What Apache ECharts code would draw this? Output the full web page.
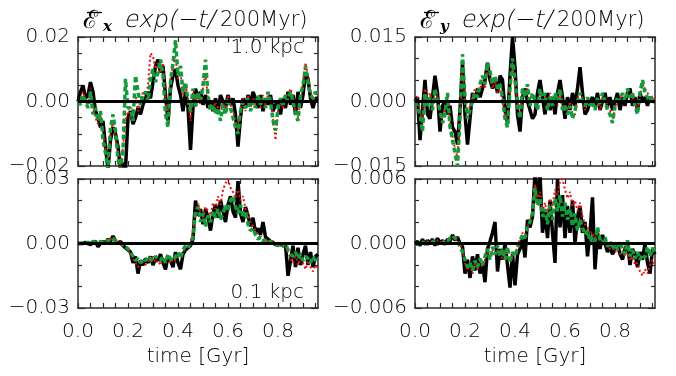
<!DOCTYPE html>
<html><head><meta charset="utf-8">
<script src="https://cdn.jsdelivr.net/npm/echarts@6/dist/echarts.min.js"></script>
<style>html,body{margin:0;padding:0;background:#fff}#c{width:676px;height:376px}</style>
</head><body><div id="c"></div>
<script>
// time axis [Gyr]
const time = [0.00,0.01,0.02,0.03,0.04,0.05,0.06,0.07,0.08,0.09,
0.10,0.11,0.12,0.13,0.14,0.15,0.16,0.17,0.18,0.19,
0.20,0.21,0.22,0.23,0.24,0.25,0.26,0.27,0.28,0.29,
0.30,0.31,0.32,0.33,0.34,0.35,0.36,0.37,0.38,0.39,
0.40,0.41,0.42,0.43,0.44,0.45,0.46,0.47,0.48,0.49,
0.50,0.51,0.52,0.53,0.54,0.55,0.56,0.57,0.58,0.59,
0.60,0.61,0.62,0.63,0.64,0.65,0.66,0.67,0.68,0.69,
0.70,0.71,0.72,0.73,0.74,0.75,0.76,0.77,0.78,0.79,
0.80,0.81,0.82,0.83,0.84,0.85,0.86,0.87,0.88,0.89,
0.90,0.91,0.92,0.93,0.94,0.95,0.96];

// values in units of 1e-3
const UNIT = 1e-3;
// Ex, 1.0 kpc
const exFarBlack = [0,3,5,1,2,6,3,-3,-5,-8, -6,-14,-21,-12,-8,-10,-14,-21,-19,-21, -5,-3,-7,-5,-2,-4,-1,1,3,1, 6,11,13,9,11,2,-6,4,8,10, 5,2,-3,3,-2,-15,-2,4,1,3, -1,2,-2,0,-3,1,-3,2,0,-2, 2,-1,1,-4,-14,-5,1,-2,2,-1, 3,1,-2,2,-3,1,-1,2,-3,-1, 0,-4,1,-2,3,-1,2,-4,3,-2, 2,9,7,1,-2,1,1];
const exFarRed = [0,1,3,0,-1,4,-2,-5,-7,-4, -10,-15,-18,-10,-6,-12,-16,-20,-14,-6, -3,-5,-2,2,-3,0,3,2,5,15, 14,10,12,9,12,0,-4,8,11,14, 7,9,2,5,1,-6,3,0,2,-1, 4,9,1,-1,-3,0,-2,-4,0,-3, 2,-1,-3,-6,-9,-2,1,-3,2,-2, 1,-1,1,-2,2,-1,2,0,-5,-12, -3,0,-2,1,2,4,1,-3,-5,1, 6,12,8,3,0,2,3];
const exFarGreen = [0,-1,2,0,-2,3,-4,-2,-6,-3, -12,-16,-21,-8,-4,-9,-18,-21,-15,7, -2,-2,-6,8,3,-1,2,3,0,7, 10,6,9,13,8,-4,-8,6,12,19, 8,11,3,6,0,-3,4,-2,3,0, 5,13,2,-3,-1,-4,-2,-6,-1,-4, 1,-2,-5,-8,-10,-3,0,-2,1,-3, 0,-2,2,-1,1,-2,3,0,-6,-9, -2,1,-1,2,0,3,0,-4,-6,2, 5,11,6,2,1,3,2];
// Ey, 1.0 kpc
const eyFarBlack = [0,1,-9,-2,5,-3,-4,1,6,2, -7,-1,0,-3,-1,-6,-7,-10,-2,9, -3,-10,-4,2,0,3,1,3,5,9, 5,3,5,2,6,5,-2,-5,6,15, 8,-3,-7,1,3,0,-2,-4,-3,2, 5,1,-3,2,-2,1,-3,2,5,1, -4,1,-2,2,-1,3,8,2,-3,-2, 0,1,-1,2,-2,0,2,-1,1,-2, 0,2,-2,1,-1,2,3,-1,1,-2, 2,0,1,-1,1,0,0];
const eyFarRed = [0,1,-2,-5,3,0,2,-1,2,1, -3,-4,-2,1,-5,-8,-11,-13,-3,8, 0,-3,-1,1,3,2,3,5,3,8, 6,3,5,2,3,0,-3,-4,2,8, 4,0,-3,2,2,3,0,1,-1,-1, 2,1,1,-1,2,0,1,-1,2,-1, -2,-2,0,-3,-3,1,1,1,-2,0, 0,-1,-1,0,-2,1,1,-1,-2,-4, -2,0,1,1,1,2,2,1,0,-2, 1,4,3,2,1,0,1];
const eyFarGreen = [0,-1,-3,-7,2,-1,1,-2,3,0, -2,-5,-3,2,-6,-9,-12,-15,-4,11, 1,-4,-2,0,2,1,4,6,4,9, 7,4,6,3,4,1,-4,-6,3,10, 5,-1,-4,3,1,4,-1,2,0,-2, 3,0,2,-2,1,-1,2,0,3,-2, -1,-3,-1,-4,-2,0,2,0,-1,1, -1,0,-2,1,-1,2,0,-2,-3,-5, -1,1,0,2,0,3,1,2,-1,-3, 2,5,2,1,0,1,1];
// Ex, 0.1 kpc
const exNearBlack = [0,0,0,0.5,0,-0.5,0.5,1,-1.5,0, 1,0,2,1,3.5,1,0,1,-1,-2, -3,-4,-9,-6,-14,-8,-10,-7,-9,-6, -10,-7,-8,-5,-9,-12,-6,-8,-11,-4, -9,-12,-5,-3,-2,-1,2,20,13,16, 9,16,12,6,14,18,12,20,15,10, 18,22,15,12,29,14,10,17,13,8, 12,5,7,4,10,3,2,1,0.5,-0.5, 0,-0.5,-1,-0.5,-15,-8,-1,-11,-2,-10, -5,-1,-10,-4,-11,-6,-5];
const exNearRed = [0,0.5,0,0,-0.5,0.5,0,1,-1,0.5, 1,0.5,2,2,3,2,0,0.5,-1,-2, -3,-5,-7,-9,-11,-8,-9,-10,-7,-9, -6,-9,-8,-10,-7,-8,-6,-9,-7,-8, -5,-6,-4,-2,-1,1,5,14,19,14, 12,17,15,13,19,16,22,18,25,28, 30,26,24,21,25,20,22,16,14,10, 8,6,4,3,2,1,1,0.5,0,0, -1,-0.5,-1.5,-1,-4,-7,-9,-5,-10,-7, -9,-12,-8,-11,-13,-10,-12];
const exNearGreen = [0,0,0.5,0,0.5,0,1,0.5,0,1, 0.5,1.5,1,2.5,2,1.5,0.5,0,-1,-1.5, -2.5,-4,-6,-8,-7,-9,-7,-8,-6,-7, -8,-6,-7,-8,-6,-9,-5,-7,-8,-6, -4,-7,-3,-1,-2,0,3,15,17,10, 14,8,13,10,15,12,16,11,14,18, 15,20,22,17,14,18,12,15,9,6, 7,4,2,3,1,1.5,0.5,1,0,-0.5, -1,0,-1,0,-3,-5,-6,-4,-7,-5, -8,-6,-7,-9,-6,-8,-7];
// Ey, 0.1 kpc
const eyNearBlack = [0,0.2,-0.2,0.4,-0.1,0.3,0,0.4,-0.2,0.5, 0,0.3,-0.1,0.4,0.2,0.8,0.3,0.6,0,-0.3, -2.8,-1.5,-3.2,-1.2,-2.5,-1,-2.8,-1.8,-3.6,-0.5, 0.2,1,2,-2.6,-0.5,-1.5,0,-2,-4.1,-1, -3.9,-1,-0.5,0.5,-1.3,2.2,1.5,2.5,6.5,4, 6.5,1,3,0.5,4,1,-1.8,6,1.5,4.5, 0.5,3.5,1,4,0,2.5,3.5,1,2,-1.2, 1,4.3,-2.4,1,-0.5,0.8,0,-0.8,-0.3,-1, -0.5,0,-1,-1.5,-0.5,0,-2,-0.5,-1,-2.2, -0.8,-1.5,0,-1.8,-2.8,-0.5,-1];
const eyNearRed = [0,0.1,0,0.2,0.1,0.2,0,0.3,0.1,0.3, 0.1,0.2,0.1,0.3,0.4,0.6,0.4,0.3,0,-0.6, -1.8,-2.5,-2,-2.8,-1.8,-2.4,-1.6,-2.2,-1.5,-0.8, -1.2,-0.5,-1.2,-0.6,-1,-1.4,-0.6,-1.3,-1.6,-1, -1,-0.2,0.4,1,0.8,1.5,2.2,3,5.5,4, 4.8,3,3.8,2.5,4.2,3.5,5,4.5,5.8,6, 5,4.2,4.8,3.5,4,3,3.8,2.5,1.8,1.5, 1,0.8,0.5,1.2,0.3,0.4,0,-0.2,-0.5,-0.4, -0.8,-0.5,-1,-0.7,-1.2,-0.8,-1.6,-1.2,-2,-1.8, -2.6,-3,-2.4,-2.8,-2,-1.5,-2];
const eyNearGreen = [0,-0.1,0.2,0,0.3,-0.1,0.2,0.1,0.3,-0.1, 0.2,0,0.3,0.2,0.5,0.4,0.6,0.2,-0.3,-0.8, -1.5,-2.2,-1.8,-2.5,-1.6,-2.2,-1.4,-2,-1.2,-0.5, -1.5,-0.3,-1,-0.2,-1.2,-0.5,-1.5,-0.3,-1.8,-0.8, -1.2,-0.4,0.2,0.8,0.5,1.5,2,2.8,5.2,3.5, 4.2,2.5,3.2,1.8,3.5,2.2,4.2,3,4.5,2.5, 3.8,2.2,3.2,1.6,2.8,1.2,2.2,1.5,0.8,1.2, 0.2,0.6,0.2,1.5,0.4,0,0.6,-0.3,0.2,-0.5, 0,-0.6,0.2,-0.5,-1,0.3,-1.2,-0.6,-1.4,-0.8, -1.5,-1,-1.3,-0.3,-1.2,-0.4,-0.8];

// tick labels
const xTickValues = [0.0, 0.2, 0.4, 0.6, 0.8];
const xTickLabels = ['0.0', '0.2', '0.4', '0.6', '0.8'];
const exFarYTicks = [-0.02, 0, 0.02];   const exFarYLabels = ['\u22120.02', '0.00', '0.02'];
const eyFarYTicks = [-0.015, 0, 0.015]; const eyFarYLabels = ['\u22120.015', '0.000', '0.015'];
const exNearYTicks = [-0.03, 0, 0.03];  const exNearYLabels = ['\u22120.03', '0.00', '0.03'];
const eyNearYTicks = [-0.006, 0, 0.006]; const eyNearYLabels = ['\u22120.006', '0.000', '0.006'];
const panelNotes = ['1.0 kpc', '0.1 kpc'];
const xTitle = 'time [Gyr]';
const titleParts = ['\u2130', 'exp(\u2212t/', '200Myr)'];
const titleComps = ['x', 'y'];

// ---------- layout / style ----------
const FONT = 'DejaVu Sans';
const FW = 200;
const AX = '#2a2a2a';
const TXT = '#000000';
const panels = [
  {left: 78, top: 37, h: 129, ticks: exFarYTicks, labels: exFarYLabels, step: 0.02, minorN: 4, data: [exFarBlack, exFarRed, exFarGreen], bottomLabels: false},
  {left: 415, top: 37, h: 129, ticks: eyFarYTicks, labels: eyFarYLabels, step: 0.015, minorN: 3, data: [eyFarBlack, eyFarRed, eyFarGreen], bottomLabels: false},
  {left: 78, top: 179, h: 129, ticks: exNearYTicks, labels: exNearYLabels, step: 0.03, minorN: 3, data: [exNearBlack, exNearRed, exNearGreen], bottomLabels: true},
  {left: 415, top: 179, h: 129, ticks: eyNearYTicks, labels: eyNearYLabels, step: 0.006, minorN: 3, data: [eyNearBlack, eyNearRed, eyNearGreen], bottomLabels: true}
];
const W = 240;

function lab(ticks, labels) {
  return function (v) {
    for (let k = 0; k < ticks.length; k++) if (Math.abs(ticks[k] - v) < 1e-9) return labels[k];
    return '';
  };
}

const grids = [], xAxes = [], yAxes = [], series = [];
const lineStyles = [
  {color: '#000000', width: 3.5, type: 'solid'},
  {color: '#ee1111', width: 2, type: [2, 2.5]},
  {color: '#149a3a', width: 3.5, type: [5, 3]}
];
panels.forEach(function (p, i) {
  grids.push({left: p.left, top: p.top, width: W, height: p.h, containLabel: false});
  ['bottom', 'top'].forEach(function (pos) {
    xAxes.push({
      gridIndex: i, type: 'value', min: 0, max: time[time.length - 1], interval: 0.05, position: pos,
      axisLine: {show: true, onZero: false, lineStyle: {color: AX, width: 1.5}},
      axisTick: {show: true, inside: true, length: 5, lineStyle: {color: AX, width: 1.2}},
      splitLine: {show: false},
      axisLabel: {show: pos === 'bottom' && p.bottomLabels, formatter: lab(xTickValues, xTickLabels),
        fontFamily: FONT, fontWeight: FW, fontSize: 20, color: TXT, margin: 14, showMaxLabel: false}
    });
  });
  ['left', 'right'].forEach(function (pos) {
    yAxes.push({
      gridIndex: i, type: 'value', min: p.ticks[0], max: p.ticks[p.ticks.length - 1], interval: p.step, position: pos,
      axisLine: {show: true, onZero: false, lineStyle: {color: AX, width: 1.5}},
      axisTick: {show: true, inside: true, length: 7, lineStyle: {color: AX, width: 1.2}},
      minorTick: {show: true, splitNumber: p.minorN, length: 4, lineStyle: {color: AX, width: 1.2}},
      splitLine: {show: false},
      axisLabel: {show: pos === 'left', formatter: lab(p.ticks, p.labels), fontFamily: FONT, fontWeight: FW, fontSize: 20, color: TXT, margin: 8}
    });
  });
  p.data.forEach(function (arr, k) {
    const s = {
      type: 'line', xAxisIndex: 2 * i, yAxisIndex: 2 * i, showSymbol: false, symbol: 'none',
      data: time.map(function (t, j) { return [t, arr[j] * UNIT]; }),
      lineStyle: lineStyles[k], clip: true, animation: false, z: 2 + k
    };
    if (k === 0) {
      s.markLine = {silent: true, symbol: ['none', 'none'], label: {show: false}, animation: false,
        lineStyle: {color: '#000', width: 3, type: 'solid'}, data: [{yAxis: 0}]};
    }
    series.push(s);
  });
});

function titleGroup(comp, x0) {
  return [
    {type: 'text', x: x0, y: 21, style: {text: titleParts[0], fontFamily: 'DejaVu Sans', fontWeight: FW, fontSize: 25, fill: TXT, verticalAlign: 'middle'}},
    {type: 'line', shape: {x1: x0 + 4, y1: 12.5, x2: x0 + 19, y2: 12.5}, style: {stroke: TXT, lineWidth: 1.3}},
    {type: 'text', x: x0 + 20, y: 27, style: {text: comp, fontFamily: 'DejaVu Serif', fontStyle: 'italic', fontWeight: 'bold', fontSize: 15, fill: TXT, verticalAlign: 'middle'}},
    {type: 'text', x: x0 + 42, y: 21, skewX: -0.22, style: {text: titleParts[1], fontFamily: FONT, fontWeight: FW, fontSize: 24, fill: TXT, verticalAlign: 'middle'}},
    {type: 'text', x: x0 + 137, y: 21, style: {text: titleParts[2], fontFamily: FONT, fontWeight: FW, fontSize: 21, fill: TXT, verticalAlign: 'middle'}}
  ];
}

const graphics = [].concat(
  titleGroup(titleComps[0], 83), titleGroup(titleComps[1], 420),
  [
    {type: 'text', x: 304, y: 48, style: {text: panelNotes[0], fontFamily: FONT, fontWeight: FW, fontSize: 20, fill: TXT, align: 'right', verticalAlign: 'middle'}},
    {type: 'text', x: 304, y: 293, style: {text: panelNotes[1], fontFamily: FONT, fontWeight: FW, fontSize: 20, fill: TXT, align: 'right', verticalAlign: 'middle'}},
    {type: 'text', x: 198, y: 357, style: {text: xTitle, fontFamily: FONT, fontWeight: FW, fontSize: 20, fill: TXT, align: 'center', verticalAlign: 'middle'}},
    {type: 'text', x: 535, y: 357, style: {text: xTitle, fontFamily: FONT, fontWeight: FW, fontSize: 20, fill: TXT, align: 'center', verticalAlign: 'middle'}}
  ]
);

const chart = echarts.init(document.getElementById('c'), null, {renderer: 'canvas'});
chart.setOption({
  animation: false, backgroundColor: '#fff',
  grid: grids, xAxis: xAxes, yAxis: yAxes, series: series, graphic: graphics
});
</script></body></html>
